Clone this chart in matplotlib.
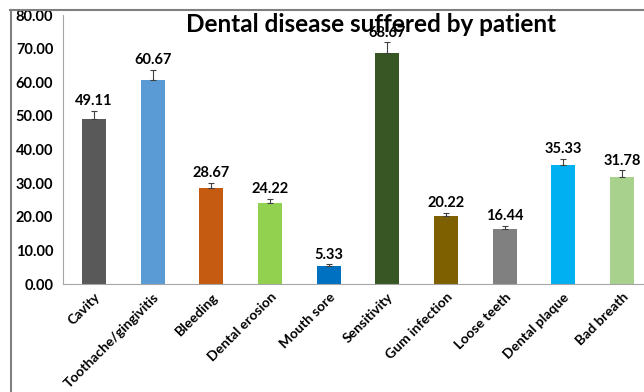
import matplotlib.pyplot as plt
from matplotlib.lines import Line2D
import numpy as np

plt.rcParams['font.family'] = ['Lato', 'DejaVu Sans']

categories = ['Cavity', 'Toothache/gingivitis', 'Bleeding', 'Dental erosion', 'Mouth sore',
              'Sensitivity', 'Gum infection', 'Loose teeth', 'Dental plaque', 'Bad breath']
values = [49.11, 60.67, 28.67, 24.22, 5.33, 68.67, 20.22, 16.44, 35.33, 31.78]
errors = [2.4, 3.0, 1.4, 1.0, 0.5, 3.2, 1.0, 0.9, 1.8, 2.0]
colors = ['#595959', '#5B9BD5', '#C55A11', '#92D050', '#0070C0',
          '#375623', '#7F6000', '#808080', '#00B0F0', '#A9D18E']

fig = plt.figure(figsize=(6.44, 3.92), dpi=100)
ax = fig.add_axes([0.0978, 0.2755, 0.916, 0.686])

x = np.arange(len(categories))
# upper error bars only
yerr = [np.zeros(len(errors)), errors]
ax.bar(x, values, width=0.41, color=colors, yerr=yerr,
       error_kw=dict(ecolor='#404040', elinewidth=0.8, capsize=2.5, capthick=0.8))

for xi, v, e in zip(x, values, errors):
    ax.annotate(f'{v:.2f}', (xi, v + e), xytext=(0, 2), textcoords='offset points',
                ha='center', va='bottom', fontsize=10.5, fontweight='bold')

ax.set_xlim(-0.53, 9.53)
ax.set_ylim(0, 80)
ax.set_yticks(np.arange(0, 81, 10))
ax.set_yticklabels([f'{t:.2f}' for t in np.arange(0, 81, 10)], fontsize=10.5, fontweight='bold')
ax.set_xticks(x)
ax.set_xticklabels(categories, rotation=45, ha='right', rotation_mode='anchor',
                   fontsize=10, fontweight='bold')
ax.tick_params(axis='y', length=0, pad=7)
ax.tick_params(axis='x', length=0, pad=5)
for s in ['top', 'right']:
    ax.spines[s].set_visible(False)
for s in ['left', 'bottom']:
    ax.spines[s].set_color('#a6a6a6')
    ax.spines[s].set_linewidth(0.8)

fig.text(0.576, 0.938, 'Dental disease suffered by patient', ha='center', va='center',
         fontsize=17.5, fontweight='bold')

# outer chart frame
fig.add_artist(Line2D([10/644, 1], [1 - 9.5/392] * 2, color='#7f7f7f', lw=1.5))
fig.add_artist(Line2D([11/644] * 2, [0, 1 - 9.5/392], color='#7f7f7f', lw=1.5))

fig.savefig('out.png', dpi=100)
